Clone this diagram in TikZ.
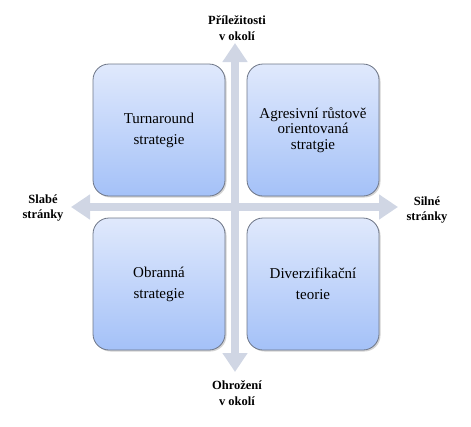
\documentclass[tikz,border=0pt]{standalone}
\usepackage{fontspec}
\setmainfont{Liberation Serif}
\usetikzlibrary{arrows.meta,shadows}

\definecolor{axisgray}{RGB}{208,214,228}
\definecolor{boxtop}{RGB}{224,233,252}
\definecolor{boxbot}{RGB}{164,193,248}
\definecolor{boxline}{RGB}{110,118,135}

\tikzset{every picture/.style={line width=0.75pt}}
\tikzset{
  quad/.style={draw=boxline, line width=0.8pt, rounded corners=16pt,
    top color=boxtop, bottom color=boxbot, minimum width=132pt, minimum height=132pt,
    align=center, font=\fontsize{15}{21}\selectfont,
    drop shadow={shadow xshift=1.5pt, shadow yshift=-1.5pt, opacity=0.35, fill=gray}},
  axislabel/.style={align=center, font=\fontsize{12.5}{15.5}\selectfont\bfseries, inner sep=0pt},
  axis/.style={draw=axisgray, line width=8pt, -{Triangle[width=24pt,length=19pt]}}
}

\begin{document}
\begin{tikzpicture}[x=1pt,y=1pt,yscale=-1]
		\useasboundingbox (0,0) rectangle (471,426);

		% axes
		\coordinate (north) at (235,43);
		\coordinate (south) at (235,372);
		\coordinate (west) at (71,207);
		\coordinate (east) at (398,207);
		\coordinate (mid) at (235,207);
		\draw [axis] (mid) -- (north);
		\draw [axis] (mid) -- (south);
		\draw [axis] (mid) -- (west);
		\draw [axis] (mid) -- (east);

		% quadrants
		\node [quad] (turn) at (159,130) {Turnaround\\strategie};
		\node [quad, font=\fontsize{15}{15.5}\selectfont] (agr) at (313,130) {Agresivní růstově\\orientovaná\\stratgie};
		\node [quad] (def) at (159,284) {Obranná\\strategie};
		\node [quad] (div) at (313,284) {Diverzifikační\\teorie};

		% labels
		\node [axislabel] (opp) at (237,28) {Příležitosti\\v okolí};
		\node [axislabel] (thr) at (237,393) {Ohrožení\\v okolí};
		\node [axislabel] (weak) at (43,208) {Slabé\\stránky};
		\node [axislabel] (strong) at (427,210) {Silné\\stránky};
\end{tikzpicture}
\end{document}
